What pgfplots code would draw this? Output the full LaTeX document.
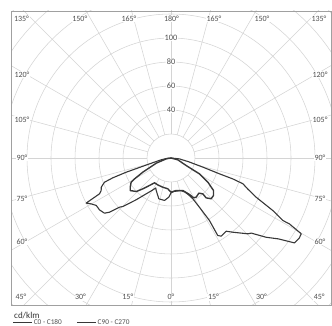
\documentclass[border=0pt]{standalone}
\usepackage{pgfplots}
\pgfplotsset{compat=1.18}
\usepackage{pgfplotstable}
\usepackage{fontspec}
\setmainfont{Carlito}
\definecolor{gridc}{HTML}{D4D4D4}
\definecolor{framec}{HTML}{A0A0A0}
\definecolor{curvec}{HTML}{383838}
\definecolor{labc}{HTML}{505050}
\tikzset{lab/.style={font=\fontsize{8}{8}\selectfont, text=labc, fill=white, inner sep=0.6pt},
  rlab/.style={font=\fontsize{8.3}{8}\selectfont, text=labc, fill=white, inner sep=0.6pt}}

% gamma (signed: right side positive, left side negative), intensity cd/klm
\pgfplotstableread{
g I
-90 0
-85 3
-80 8
-74.7 18.6
-72.4 39.2
-71.2 51.2
-70 59
-67.3 63
-65 64.2
-63.4 66.6
-62 80.1
-60.1 76.7
-57.6 73.8
-54 73.6
-50.3 72
-48.6 68.3
-46.3 59.3
-44.8 57
-39.8 45.3
-34.7 36.3
-30 31
-26.9 28
-24.4 29.8
-16.6 35.5
-8.7 35.8
-3.2 32.7
0 29
5 28
10 28
17 28.5
22 30.5
25.5 34
28.2 38.6
30 47.4
31.6 61
31.1 75.4
32.7 77.4
37 76.4
39.8 80.5
45.4 90
46.9 91.6
50.2 103.2
53 112
55.5 124.9
58 126
59.8 125.6
60.9 113
60.8 106.8
62.7 95.5
65.3 78
68 69
70.3 63.6
71.3 54.4
71.9 42.5
74 27.6
78 15
84 7
90 0
}\outerdata

\pgfplotstableread{
g I
-90 0
-80 4
-70.7 13
-63.3 26.3
-60.2 35
-58.8 38.8
-54.4 41.8
-51.4 43.5
-46 40.2
-42.4 34.8
-38 29
-33.6 24.8
-26 25
-15.6 25.3
-5.9 25.8
0 28.5
9.1 27.4
20 28.8
26.9 34.1
29.5 38.1
32.8 38.8
38.4 37.4
41.6 40
41.4 44.3
44.6 47.7
48.6 47.2
52.6 44.6
56.8 36.7
60.9 27.2
63.6 14.1
75 5.9
90 0
}\innerdata

\begin{document}
\begin{tikzpicture}
\begin{axis}[
  scale only axis, width=320pt, height=294pt,
  xmin=-133.333, xmax=133.333, ymin=-122.5, ymax=122.5,
  ticks=none,
  axis line style={draw=framec, line width=0.7pt},
  axis on top,
  legend columns=2,
  legend image code/.code={\draw[#1] (0pt,0pt) -- (19pt,0pt);},
  legend style={at={(axis description cs:0.004,-0.0602)}, anchor=west,
    draw=none, fill=none, inner sep=0pt, text=labc,
    font=\fontsize{7.3}{8}\selectfont,
    nodes={inner sep=1.2pt},
    /tikz/every even column/.append style={column sep=13pt}},
]
\coordinate (SW) at (rel axis cs:0,0);
\coordinate (NE) at (rel axis cs:1,1);
\pgfplotsinvokeforeach{20,40,...,200}{
  \draw[gridc, line width=0.55pt] (axis cs:0,0) circle[radius={#1*1.2pt}];
}
\pgfplotsinvokeforeach{0,15,...,345}{
  \draw[gridc, line width=0.55pt] (axis cs:{20*cos(#1)},{20*sin(#1)}) -- (axis cs:{230*cos(#1)},{230*sin(#1)});
}
% radial labels
\node[rlab] at (axis cs:0,100) {100};
\node[rlab] at (axis cs:0,80) {80};
\node[rlab] at (axis cs:0,60) {60};
\node[rlab] at (axis cs:0,40) {40};
% top row
\node[lab] at (axis cs:-124.6,116) {135°};
\node[lab] at (axis cs:-76,116) {150°};
\node[lab] at (axis cs:-35,116) {165°};
\node[lab] at (axis cs:0.4,116) {180°};
\node[lab] at (axis cs:35.8,116) {165°};
\node[lab] at (axis cs:75.8,116) {150°};
\node[lab] at (axis cs:123.3,116) {135°};
% left column
\node[lab] at (axis cs:-124.2,69.6) {120°};
\node[lab] at (axis cs:-124.2,32) {105°};
\node[lab] at (axis cs:-124.2,0) {90°};
\node[lab] at (axis cs:-124.2,-34) {75°};
\node[lab] at (axis cs:-124.2,-70) {60°};
% right column
\node[lab] at (axis cs:124.2,69.6) {120°};
\node[lab] at (axis cs:124.2,32) {105°};
\node[lab] at (axis cs:124.2,0) {90°};
\node[lab] at (axis cs:124.2,-34) {75°};
\node[lab] at (axis cs:124.2,-70) {60°};
% bottom row
\node[lab] at (axis cs:-125,-116) {45°};
\node[lab] at (axis cs:-75.4,-116) {30°};
\node[lab] at (axis cs:-36,-116) {15°};
\node[lab] at (axis cs:0,-116) {0°};
\node[lab] at (axis cs:35.4,-116) {15°};
\node[lab] at (axis cs:75.4,-116) {30°};
\node[lab] at (axis cs:123.5,-116) {45°};

\addplot[curvec, line width=1.1pt, line join=round]
  table[x expr={\thisrow{I}*sin(\thisrow{g})}, y expr={-\thisrow{I}*cos(\thisrow{g})}] {\outerdata};
\addlegendentry{C0 - C180}
\addplot[curvec, line width=1.4pt, line join=round]
  table[x expr={\thisrow{I}*sin(\thisrow{g})}, y expr={-\thisrow{I}*cos(\thisrow{g})}] {\innerdata};
\addlegendentry{C90 - C270}
\end{axis}
\node[anchor=base west, inner sep=0pt, font=\fontsize{9}{10}\selectfont, text=black!80] at ([xshift=3pt,yshift=-13.3pt]SW) {cd/klm};
\pgfresetboundingbox
\path[use as bounding box] ([xshift=-11pt,yshift=-21pt]SW) rectangle ([xshift=1pt,yshift=11pt]NE);
\end{tikzpicture}
\end{document}
